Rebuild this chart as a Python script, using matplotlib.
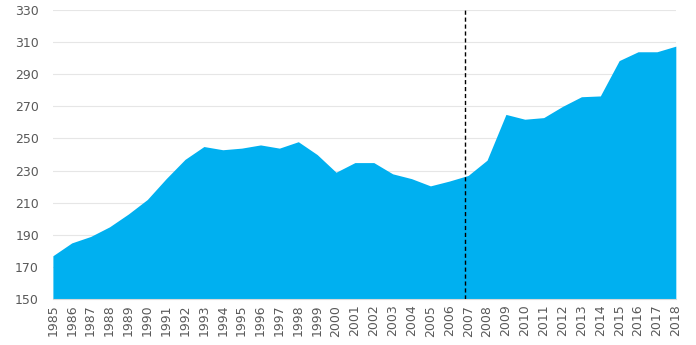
import numpy as np
import matplotlib.pyplot as plt

years = list(range(1985, 2019))
values = [177, 185, 189, 195, 203, 212, 225, 237, 245, 243, 244, 246, 244, 248, 240, 229,
          235, 235, 228, 225, 220.5, 223.5, 227, 236.5, 265, 262, 263, 270, 276, 276.5,
          298.5, 304, 304, 307.5]
marker_year = 2007
y_ticks = list(range(150, 331, 20))

fig = plt.figure(figsize=(6.96, 3.45), dpi=100)
ax = fig.add_axes([0.076, 0.133, 0.895, 0.838])

ax.fill_between(years, values, 150, color='#00B0F0', linewidth=0, zorder=2)
ax.axvline(marker_year - 0.15, color='black', linestyle=(0, (3, 2)), linewidth=1, zorder=3)

ax.set_xlim(years[0], years[-1])
ax.set_ylim(150, 330)
ax.set_yticks(y_ticks)
ax.set_xticks(years)
ax.set_xticklabels([str(y) for y in years], rotation=90)
ax.grid(axis='y', color='#E6E6E6', linewidth=0.8, zorder=0)
ax.set_axisbelow(True)
for s in ['top', 'right', 'left']:
    ax.spines[s].set_visible(False)
ax.spines['bottom'].set_color('#D9D9D9')
ax.tick_params(axis='x', length=0, colors='#595959', labelsize=9, pad=4)
ax.tick_params(axis='y', length=0, colors='#595959', labelsize=9, pad=10)

fig.savefig('out.png', dpi=100)
